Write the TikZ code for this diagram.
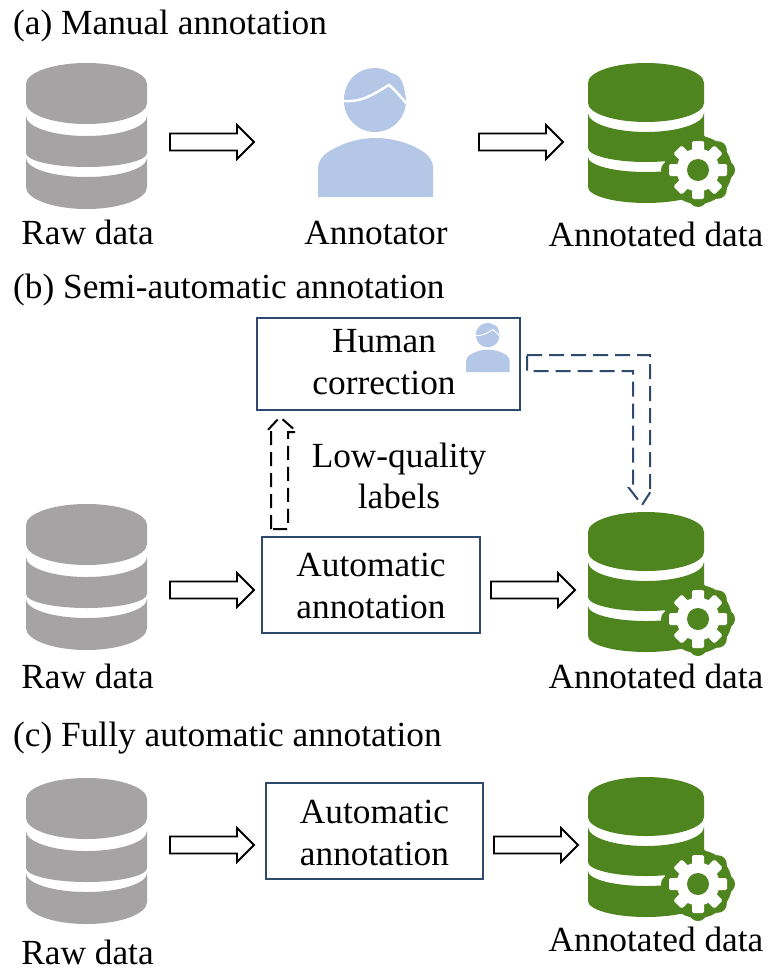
\documentclass[tikz,border=0pt]{standalone}
\usepackage{fontspec}
\setmainfont{Liberation Serif}
\usetikzlibrary{calc}
\definecolor{dbgrey}{HTML}{A5A3A4}
\definecolor{dbgreen}{HTML}{4E851F}
\definecolor{personblue}{HTML}{B4C7E7}
\definecolor{boxnavy}{HTML}{2F4A6D}
\tikzset{
  caption/.style={anchor=base,font=\fontsize{35.3}{42}\selectfont,inner sep=0pt},
  heading/.style={anchor=base west,font=\fontsize{35.3}{42}\selectfont,inner sep=0pt},
  procbox/.style={draw=boxnavy,line width=2.2pt,fill=white,inner sep=0pt},
  boxtext/.style={align=center,inner sep=0pt,font=\fontsize{35.3}{42}\selectfont},
  blockarrow/.style={draw=black,line width=1.8pt,fill=white,line join=miter},
  dashup/.style={draw=black,line width=2pt,dash pattern=on 14pt off 7pt},
  dashnavy/.style={draw=boxnavy,line width=2pt,dash pattern=on 15pt off 7pt},
}
% One slice of a drum: width w, upper rim at edge/centre depth, lower rim likewise.
\newcommand{\drumslice}[6]{%
  \fill[#1] (0,#3) .. controls (0,#3+0.55*#4-0.55*#3) and (0.224*#2,#4) .. (0.5*#2,#4)
    .. controls (0.776*#2,#4) and (#2,#3+0.55*#4-0.55*#3) .. (#2,#3)
    -- (#2,#5) .. controls (#2,#5+0.55*#6-0.55*#5) and (0.776*#2,#6) .. (0.5*#2,#6)
    .. controls (0.224*#2,#6) and (0,#5+0.55*#6-0.55*#5) .. (0,#5) -- cycle;}
\newcommand{\greydrum}[2]{%
  \begin{scope}[shift={(#1,#2)}]
    \drumslice{dbgrey}{121}{21}{0}{40}{61}
    \drumslice{dbgrey}{121}{53}{73}{90}{104}
    \drumslice{dbgrey}{121}{95}{114}{124}{146}
  \end{scope}}
\newcommand{\greendrum}[2]{%
  \begin{scope}[shift={(#1,#2)}]
    \drumslice{dbgreen}{116}{20}{0}{40}{59}
    \drumslice{dbgreen}{116}{50}{69}{85}{99}
    \drumslice{dbgreen}{116}{94}{109}{124}{140}
    % gear with its scalloped collar
    \begin{scope}[shift={(110,107)}]
      \fill[dbgreen] (0,0) circle[radius=34pt];
      \foreach \a in {0,45,...,315}{\fill[dbgreen] (\a:28) circle[radius=9pt];}
      \fill[white] (0,0) circle[radius=21.5pt];
      \foreach \a in {0,45,...,315}{
        \fill[white,rotate=\a,rounded corners=1.5pt] (17,-6) rectangle (29,6);}
      \fill[dbgreen] (0,0) circle[radius=11pt];
    \end{scope}
  \end{scope}}
% Person icon: origin at the left of the shoulders, top of the hair.
\newcommand{\person}[4]{%
  \begin{scope}[shift={(#1,#2)},scale=#3]
    \fill[personblue] (57,33) circle[radius=31pt];
    \fill[personblue] (26,31) .. controls (27,10) and (42,0) .. (57,0)
       .. controls (65,0) and (70,3) .. (73,5)
       .. controls (82,6) and (87,14) .. (87,33) -- (57,40) -- cycle;
    \draw[white,line width=#4,line cap=round] (24,33) .. controls (45,34) and (52,28) .. (71,17)
       .. controls (76,21) and (82,28) .. (89,36);
    \fill[personblue] (0,129) -- (0,101) .. controls (0,92) and (5,88) .. (10,84)
       .. controls (25,75) and (40,70) .. (58,70) .. controls (75,70) and (95,76) .. (107,85)
       .. controls (112,89) and (115,93) .. (115,101) -- (115,129) -- cycle;
  \end{scope}}
% Hollow block arrow between two named points lying on one row.
\newcommand{\hollowright}[2]{%
  \draw[blockarrow] (#1)+(0,-8.5) -- ($(#2)+(-17,-8.5)$) -- ($(#2)+(-17,-17)$) -- (#2)
    -- ($(#2)+(-17,17)$) -- ($(#2)+(-17,8.5)$) -- ($(#1)+(0,8.5)$) -- cycle;}
\begin{document}
\begin{tikzpicture}[x=1pt,y=-1pt]
  \useasboundingbox (0,0) rectangle (772,980);

  % (a) manual annotation
  \node[heading] (heada) at (13,34) {(a) Manual annotation};
  \greydrum{26}{63}
  \person{318}{68}{1}{2.5pt}
  \greendrum{588}{63}
  \node[caption] (rawa) at (87.5,244) {Raw data};
  \node[caption] (annotator) at (376,244) {Annotator};
  \node[caption] (doneA) at (656,246) {Annotated data};
  \coordinate (a1s) at (170,142); \coordinate (a1e) at (254,142);
  \coordinate (a2s) at (479,142); \coordinate (a2e) at (563,142);
  \hollowright{a1s}{a1e}
  \hollowright{a2s}{a2e}

  % (b) semi-automatic annotation
  \node[heading] (headb) at (13,298) {(b) Semi-automatic annotation};
  \greydrum{26}{504}
  \greendrum{588}{512}
  \node[caption] (rawb) at (87.5,688) {Raw data};
  \node[caption] (doneB) at (656,688) {Annotated data};
  \node[procbox,minimum width=263pt,minimum height=92pt] (human) at (388.5,364) {};
  \node[boxtext] (humantext) at (384,362) {Human\\correction};
  \person{466}{323}{0.38}{1pt}
  \node[procbox,minimum width=218pt,minimum height=96pt] (autob) at (371,585) {};
  \node[boxtext] (autobtext) at (371,586) {Automatic\\annotation};
  \node[caption] (lowq) at (399,467) {Low-quality};
  \node[caption] (lowl) at (399,508) {labels};
  \coordinate (b1s) at (170,590); \coordinate (b1e) at (254,590);
  \coordinate (b2s) at (491,590); \coordinate (b2e) at (575,590);
  \hollowright{b1s}{b1e}
  \hollowright{b2s}{b2e}
  % dashed hollow arrow rising from the automatic box to the correction box
  \coordinate (upfoot) at (280,529);
  \coordinate (uptip) at (280,417);
  \draw[dashup] ($(upfoot)+(-9,0)$) -- ($(uptip)+(-9,15)$) -- ($(uptip)+(-14,15)$) -- (uptip)
     -- ($(uptip)+(17,15)$) -- ($(uptip)+(8,15)$) -- ($(upfoot)+(8,0)$) -- cycle;
  % dashed hollow elbow arrow from the correction box down to the annotated data
  \coordinate (elbowstart) at (527,363);
  \coordinate (elbowtip) at (642,505);
  \draw[dashnavy] ($(elbowstart)+(0,-8)$) -- ($(elbowtip)+(8,-150)$) -- ($(elbowtip)+(8,-17)$)
     -- ($(elbowtip)+(11,-17)$) -- (elbowtip) -- ($(elbowtip)+(-13,-17)$) -- ($(elbowtip)+(-9,-17)$)
     -- ($(elbowtip)+(-9,-134)$) -- ($(elbowstart)+(0,8)$) -- cycle;

  % (c) fully automatic annotation
  \node[heading] (headc) at (13,746) {(c) Fully automatic annotation};
  \greydrum{26}{778}
  \greendrum{588}{777}
  \node[caption] (rawc) at (87.5,964) {Raw data};
  \node[caption] (doneC) at (656,951) {Annotated data};
  \node[procbox,minimum width=217pt,minimum height=96pt] (autoc) at (374.5,831) {};
  \node[boxtext] (autoctext) at (374.5,833) {Automatic\\annotation};
  \coordinate (c1s) at (170,845); \coordinate (c1e) at (254,845);
  \coordinate (c2s) at (494,845); \coordinate (c2e) at (578,845);
  \hollowright{c1s}{c1e}
  \hollowright{c2s}{c2e}
\end{tikzpicture}
\end{document}
